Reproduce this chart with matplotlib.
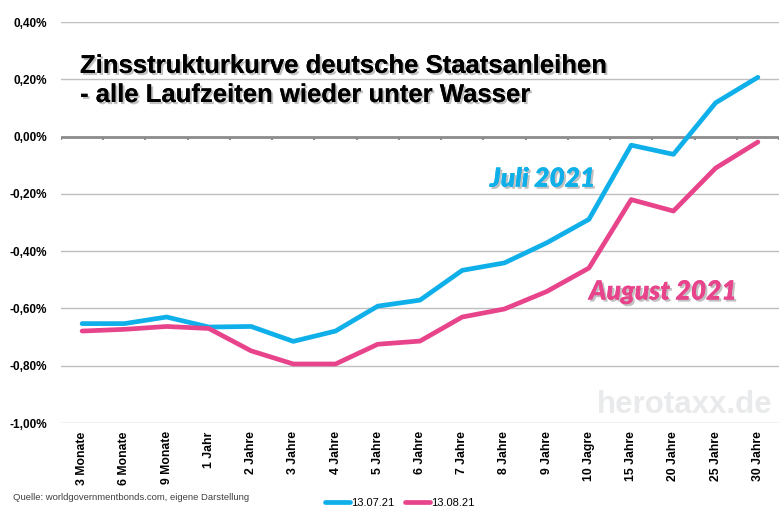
import matplotlib
matplotlib.use("Agg")
import matplotlib.pyplot as plt
import matplotlib.patheffects as pe
import numpy as np
from matplotlib.ticker import FuncFormatter

# Laufzeiten und Renditen (in %)
laufzeiten = ["3 Monate", "6 Monate", "9 Monate", "1 Jahr", "2 Jahre", "3 Jahre",
              "4 Jahre", "5 Jahre", "6 Jahre", "7 Jahre", "8 Jahre", "9 Jahre",
              "10 Jagre", "15 Jahre", "20 Jahre", "25 Jahre", "30 Jahre"]
juli = [-0.653, -0.653, -0.630, -0.665, -0.663, -0.715, -0.679, -0.592, -0.571,
        -0.467, -0.441, -0.371, -0.289, -0.030, -0.062, 0.118, 0.207]
august = [-0.679, -0.673, -0.663, -0.670, -0.748, -0.794, -0.794, -0.725, -0.714,
          -0.630, -0.602, -0.541, -0.459, -0.220, -0.260, -0.110, -0.019]
serien_namen = ["13.07.21", "13.08.21"]

blau = "#0FAFEA"
pink = "#E8448C"

plt.rcParams["font.family"] = ["Liberation Sans", "DejaVu Sans"]

fig = plt.figure(figsize=(7.79, 5.13), dpi=100)
ax = fig.add_axes([61 / 779, 90 / 513, 718 / 779, 401 / 513])

x = np.arange(len(laufzeiten))
ax.plot(x, juli, color=blau, lw=3.4, solid_capstyle="round", label=serien_namen[0], zorder=3)
ax.plot(x, august, color=pink, lw=3.4, solid_capstyle="round", label=serien_namen[1], zorder=3)

ax.set_xlim(-0.5, len(laufzeiten) - 0.5)
ax.set_ylim(-1.0, 0.4)
ax.set_yticks(np.arange(-1.0, 0.41, 0.2))


def prozent(v, p):
    if abs(v) < 1e-9:
        v = 0.0
    return f"{v:.2f}%".replace(".", ",")


ax.yaxis.set_major_formatter(FuncFormatter(prozent))
ax.grid(axis="y", color="#BFBFBF", lw=1.0)
ax.set_axisbelow(True)
for s in ax.spines.values():
    s.set_visible(False)

# Nulllinie mit Teilstrichen
ax.axhline(0, color="#8C8C8C", lw=2.0, zorder=2)
ax.vlines(np.arange(-0.5, len(laufzeiten)), -0.012, 0, color="#8C8C8C", lw=1.5, zorder=2)

ax.set_xticks(x)
ax.set_xticklabels(laufzeiten, rotation=90, fontsize=8.8, fontweight="bold", va="top")
ax.tick_params(axis="both", length=0)
ax.tick_params(axis="x", pad=6)
ax.tick_params(axis="y", pad=10, labelsize=8.5)
for t in ax.get_yticklabels():
    t.set_fontweight("bold")

schatten = [pe.withSimplePatchShadow(offset=(1.5, -1.5), shadow_rgbFace="#999999", alpha=0.6), pe.Normal()]

fig.text(80 / 779, 1 - 102 / 513, "Zinsstrukturkurve deutsche Staatsanleihen\n- alle Laufzeiten wieder unter Wasser",
         fontsize=18.5, fontweight="bold", color="black", va="baseline", linespacing=1.27,
         path_effects=schatten)

ax.text(9.65, -0.175, "Juli 2021", color=blau, fontsize=19, fontfamily="Lato",
        fontweight="heavy", style="italic", va="baseline", path_effects=schatten)
ax.text(12.0, -0.569, "August 2021", color=pink, fontsize=19, fontfamily="Lato",
        fontweight="heavy", style="italic", va="baseline", path_effects=schatten)

ax.text(16.35, -0.965, "herotaxx.de", color="#E8EAEB", fontsize=22.5, fontweight="bold",
        ha="right", va="baseline", zorder=1)

fig.text(13 / 779, 1 - 500 / 513, "Quelle: worldgovernmentbonds.com, eigene Darstellung",
         fontsize=6.8, color="#404040")

fig.legend(loc="lower center", bbox_to_anchor=(0.513, -0.01), ncol=2, frameon=False,
           fontsize=8, handlelength=2.2, handletextpad=0.1, columnspacing=1.0)

fig.savefig("out.png", dpi=100)
